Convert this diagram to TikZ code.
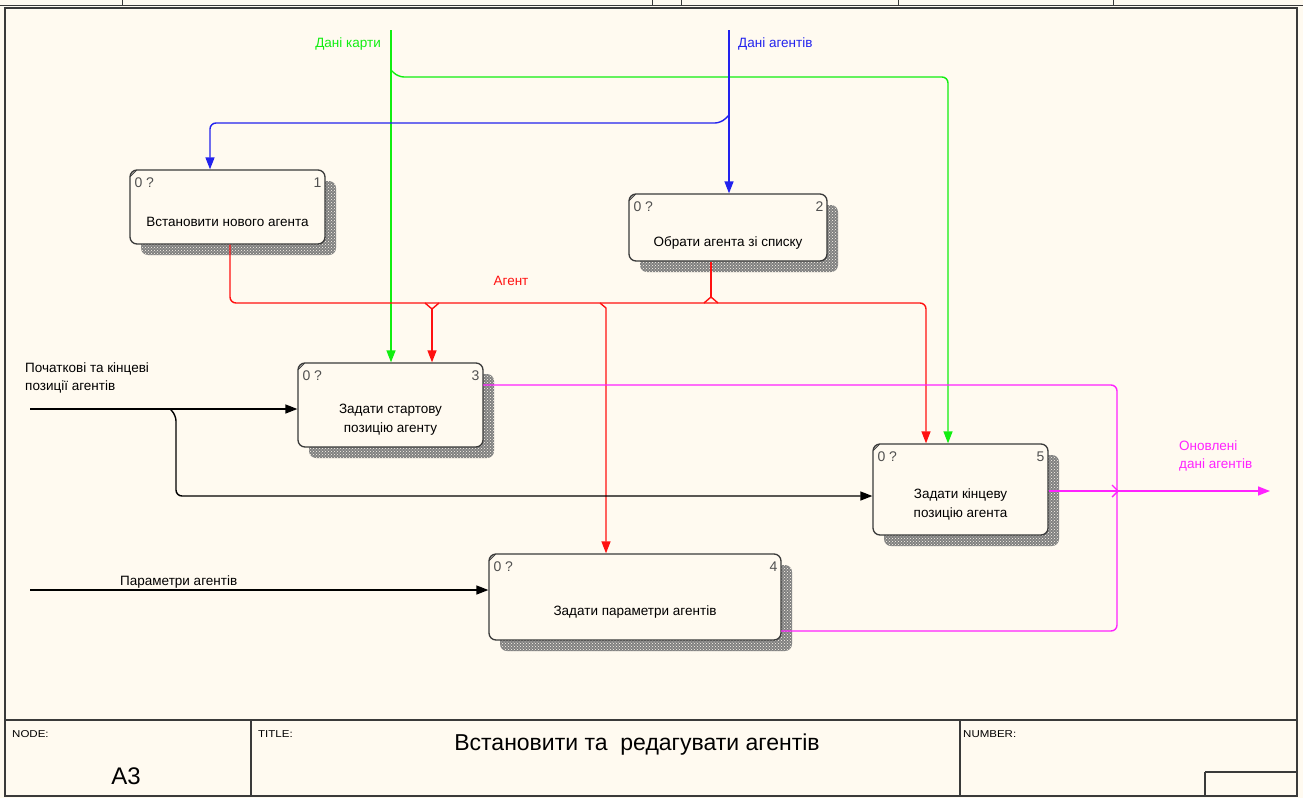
\documentclass[tikz,border=0pt]{standalone}
\usepackage{fontspec}
\setmainfont{Liberation Sans}
\newfontfamily\lblfont{Liberation Sans}
\newfontfamily\capfont[FakeStretch=1.15]{Liberation Sans}
\usetikzlibrary{arrows.meta,patterns}
\definecolor{paper}{HTML}{FFFAF0}
\definecolor{edge}{HTML}{3A3A3A}
\definecolor{cgreen}{HTML}{11EE11}
\definecolor{cblue}{HTML}{2222EE}
\definecolor{cred}{HTML}{FF1111}
\definecolor{cpink}{HTML}{FF22FF}
\definecolor{tagcol}{HTML}{505050}

\tikzset{
  fbox/.style={draw=edge, line width=1.3pt, fill=paper, rounded corners=7pt, inner sep=0pt},
  shade/.style={fill=black!50, rounded corners=7pt},
  shadetex/.style={pattern=crosshatch dots, pattern color=paper, rounded corners=7pt},
  tagtext/.style={font=\lblfont\fontsize{14}{15}\selectfont, text=tagcol, inner sep=0pt},
  boxtext/.style={font=\lblfont\fontsize{13.5}{19}\selectfont, align=center, inner sep=0pt},
  lbl/.style={font=\lblfont\fontsize{13.5}{18}\selectfont, inner sep=0pt},
  wire/.style={line width=1.4pt, rounded corners=6pt},
  tip/.style={-{Triangle[length=12pt,width=9pt]}},
  gline/.style={wire, draw=cgreen, cgreen},
  bline/.style={wire, draw=cblue, cblue},
  rline/.style={wire, draw=cred, cred},
  pline/.style={wire, draw=cpink, cpink},
  kline/.style={wire, draw=black, black},
  framel/.style={draw=edge, line width=1.4pt},
  smallcap/.style={font=\capfont\fontsize{10}{11}\selectfont, inner sep=0pt, anchor=north west}
}

% IDEF0 activity box: name, centre x, centre y, width, height, number, text
\newcommand\idefbox[7]{%
  \fill[shade] (#2-#4/2+11, #3-#5/2+11) rectangle (#2+#4/2+11, #3+#5/2+11);
  \fill[shadetex] (#2-#4/2+11, #3-#5/2+11) rectangle (#2+#4/2+11, #3+#5/2+11);
  \node[fbox, minimum width=#4pt, minimum height=#5pt] (#1) at (#2,#3) {};
  \draw[edge, line width=0.8pt] ([xshift=1pt,yshift=-7pt]#1.north west) -- ([xshift=7pt,yshift=-1pt]#1.north west);
  \node[tagtext, anchor=north west] at ([xshift=5pt,yshift=-8pt]#1.north west) {0 ?};
  \node[tagtext, anchor=north east] at ([xshift=-4pt,yshift=-8pt]#1.north east) {#6};
  \node[boxtext] at ([yshift=-15pt]#1.center) {#7};
}

\begin{document}
\begin{tikzpicture}[x=1pt, y=-1pt]
  % sheet
  \fill[paper] (0,0) rectangle (1303,798);
  \useasboundingbox (0,0) rectangle (1303,798);

  % frame with the upper strip and its ticks
  \draw[edge, line width=0.8pt] (0,5) -- (1303,5);
  \foreach \tx in {122,652,681,898,1113} \draw[edge, line width=0.8pt] (\tx,0) -- (\tx,5);
  \draw[framel] (5,8) rectangle (1297,796);

  % title block
  \draw[framel, line width=2pt] (5,720) -- (1297,720);
  \draw[framel] (251,720) -- (251,796);
  \draw[framel] (960,720) -- (960,796);
  \draw[framel] (1205,772) -- (1297,772);
  \draw[framel] (1205,772) -- (1205,796);
  \node[smallcap] at (12,730) {NODE:};
  \node[smallcap] at (258,730) {TITLE:};
  \node[smallcap] at (963,730) {NUMBER:};
  \node[font=\lblfont\fontsize{24}{26}\selectfont, inner sep=0pt] (nodeid) at (126,776) {A3};
  \node[font=\lblfont\fontsize{23}{26}\selectfont, inner sep=0pt] (title) at (637,745) {Встановити та\ \ редагувати агентів};

  % activity boxes
  \idefbox{b1}{227.5}{207}{195}{74}{1}{Встановити нового агента}
  \idefbox{b2}{728}{227.5}{198}{67}{2}{Обрати агента зі списку}
  \idefbox{b3}{390.5}{405}{185}{84}{3}{Задати стартову\\позицію агенту}
  \idefbox{b5}{960.5}{489.5}{175}{91}{5}{Задати кінцеву\\позицію агента}
  \idefbox{b4}{635}{597}{292}{86}{4}{Задати параметри агентів}

  % map data (control)
  \coordinate (gsrc) at (391,30);
  \coordinate (gright) at (948,77);
  \draw[gline, tip] (gsrc) -- (b3.north -| gsrc);
  \draw[gline, tip] (391,70) -- (398,77) -- (gright) -- (b5.north -| gright);
  \node[lbl, text=cgreen, anchor=east] (glbl) at (381,44) {Дані карти};

  % agent data (control)
  \coordinate (bsrc) at (729,30);
  \coordinate (bleft) at (210,123);
  \draw[bline, tip] (bsrc) -- (b2.north -| bsrc);
  \draw[bline, tip] (729,115) -- (721,123) -- (bleft) -- (b1.north -| bleft);
  \node[lbl, text=cblue, anchor=west] (blbl) at (738,44) {Дані агентів};

  % agent (outputs of 1 and 2)
  \coordinate (r1) at (230,303);
  \coordinate (r2) at (711,297);
  \coordinate (r3) at (432,309);
  \coordinate (r4) at (606,303);
  \coordinate (r5) at (926,303);
  \draw[rline, tip] (b1.south -| r1) -- (r1) -- (r5) -- (b5.north -| r5);
  \draw[rline, rounded corners=0pt] (b2.south -| r2) -- (r2);
  \draw[rline, rounded corners=0pt] (704,303) -- (r2) -- (718,303);
  \draw[rline, rounded corners=0pt] (425,303) -- (r3) -- (439,303);
  \draw[rline, tip, rounded corners=0pt] (r3) -- (b3.north -| r3);
  \draw[rline, tip, rounded corners=0pt] (600,303) -- (606,308) -- (b4.north -| r4);
  \node[lbl, text=cred] (rlbl) at (511,281) {Агент};

  % updated agent data (outputs of 3, 4, 5)
  \coordinate (p3) at (483,385);
  \coordinate (pc1) at (1117,385);
  \coordinate (pc2) at (1117,631);
  \coordinate (p4) at (781,631);
  \coordinate (pout) at (1270,491);
  \draw[pline] (p3) -- (pc1) -- (pc2) -- (p4);
  \draw[pline, tip] (b5.east |- pout) -- (pout);
  \draw[pline, rounded corners=0pt] (1112,485) -- (1118,491) -- (1112,497);
  \node[lbl, text=cpink, anchor=north west, align=left] (plbl) at (1179,441) {Оновлені\\дані агентів};

  % start and end positions (input)
  \coordinate (k1) at (30,409);
  \coordinate (kb) at (176,496);
  \draw[kline, tip] (k1) -- (b3.west |- k1);
  \draw[kline, tip] (170,409) -- (176,415) -- (kb) -- (b5.west |- kb);
  \node[lbl, anchor=north west, align=left] (klbl) at (25,363) {Початкові та кінцеві\\позиції агентів};

  % agent parameters (input)
  \coordinate (k2) at (30,590);
  \draw[kline, tip] (k2) -- (b4.west |- k2);
  \node[lbl, anchor=south west] (k2lbl) at (120,588) {Параметри агентів};
\end{tikzpicture}
\end{document}
